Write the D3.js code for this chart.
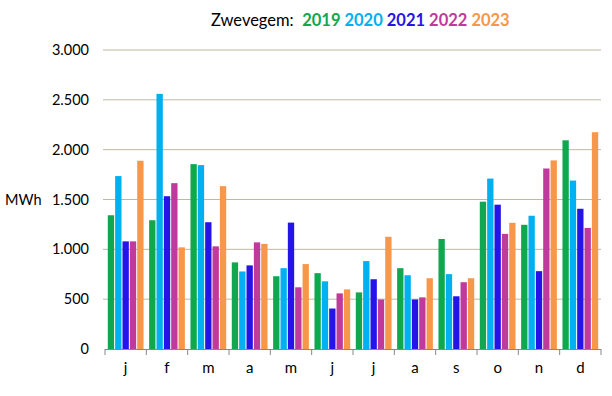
<!DOCTYPE html>
<html>
<head>
<meta charset="utf-8">
<script src="https://cdn.jsdelivr.net/npm/d3@7"></script>
<style>
  body { margin: 0; background: #fff; }
  text { font-family: Lato, "Open Sans", sans-serif; }
</style>
</head>
<body>
<div id="chart"></div>
<script>
// Monthly energy use for Zwevegem, MWh per year

var months = ["j", "f", "m", "a", "m", "j", "j", "a", "s", "o", "n", "d"];
var years = ["2019", "2020", "2021", "2022", "2023"];
var colors = ["#0FA84E", "#00B0F0", "#2414E6", "#C0399C", "#F7974A"];
var yTicks = [0, 500, 1000, 1500, 2000, 2500, 3000];

var v2019 = [1342, 1292, 1855, 869, 730, 761, 568, 811, 1104, 1478, 1246, 2094];
var v2020 = [1735, 2560, 1845, 778, 811, 679, 882, 740, 751, 1710, 1337, 1690];
var v2021 = [1080, 1533, 1272, 839, 1268, 406, 700, 497, 529, 1448, 781, 1407];
var v2022 = [1080, 1664, 1030, 1070, 619, 558, 497, 518, 670, 1155, 1811, 1215];
var v2023 = [1889, 1020, 1634, 1055, 852, 598, 1126, 710, 710, 1266, 1892, 2175];
var series = [v2019, v2020, v2021, v2022, v2023];

var svgWidth = 612;
var svgHeight = 396;
var margin = {top: 50, right: 11, bottom: 47, left: 105};
var chartWidth = svgWidth - margin.left - margin.right;
var chartHeight = svgHeight - margin.top - margin.bottom;

var svg = d3.select("#chart").append("svg")
    .attr("width", svgWidth)
    .attr("height", svgHeight);

var chartGroup = svg.append("g")
    .attr("transform", `translate(${margin.left}, ${margin.top})`);

// scales
var xScale = d3.scaleBand()
    .domain(d3.range(months.length))
    .range([0, chartWidth]);

var xInner = d3.scaleBand()
    .domain(years)
    .range([0, xScale.bandwidth()])
    .paddingInner(0.14)
    .paddingOuter(0.38);

var yScale = d3.scaleLinear()
    .domain([0, 3000])
    .range([chartHeight, 0]);

// gridlines
chartGroup.selectAll(".grid")
    .data(yTicks.slice(1))
    .enter()
    .append("line")
    .attr("class", "grid")
    .attr("x1", -2)
    .attr("x2", chartWidth)
    .attr("y1", d => yScale(d))
    .attr("y2", d => yScale(d))
    .attr("stroke", "#BFB9A0")
    .attr("stroke-width", 1);

// y tick labels
var fmt = d3.format(",");
chartGroup.selectAll(".ylab")
    .data(yTicks)
    .enter()
    .append("text")
    .attr("class", "ylab")
    .attr("x", -16)
    .attr("y", d => yScale(d) + 5)
    .attr("text-anchor", "end")
    .attr("font-size", "14.5px")
    .attr("fill", "#000")
    .text(d => fmt(d).replace(/,/g, "."));

// bars
years.forEach(function(yr, i) {
    chartGroup.selectAll(".bar" + yr)
        .data(series[i])
        .enter()
        .append("rect")
        .attr("x", (d, m) => xScale(m) + xInner(yr))
        .attr("y", d => yScale(d))
        .attr("width", xInner.bandwidth())
        .attr("height", d => chartHeight - yScale(d))
        .attr("fill", colors[i]);
});

// x axis line and ticks
var axisG = chartGroup.append("g")
    .attr("transform", `translate(0, ${chartHeight})`);

axisG.append("line")
    .attr("x1", 0).attr("x2", chartWidth)
    .attr("y1", 0.5).attr("y2", 0.5)
    .attr("stroke", "#888");

axisG.selectAll(".xtick")
    .data(d3.range(months.length + 1))
    .enter()
    .append("line")
    .attr("x1", d => d < months.length ? xScale(d) : chartWidth)
    .attr("x2", d => d < months.length ? xScale(d) : chartWidth)
    .attr("y1", 0)
    .attr("y2", 6)
    .attr("stroke", "#888");

axisG.selectAll(".xlab")
    .data(months)
    .enter()
    .append("text")
    .attr("x", (d, i) => xScale(i) + xScale.bandwidth() / 2)
    .attr("y", 24)
    .attr("text-anchor", "middle")
    .attr("font-size", "15px")
    .attr("fill", "#000")
    .text(d => d);

// y label
svg.append("text")
    .attr("x", 5)
    .attr("y", 205)
    .attr("font-size", "14.5px")
    .attr("fill", "#000")
    .text("MWh");

// title
var title = svg.append("text")
    .attr("x", 211)
    .attr("y", 26)
    .attr("font-size", "16.5px")
    .attr("fill", "#000")
    .style("white-space", "pre");

title.append("tspan").text("Zwevegem:  ");
years.forEach(function(yr, i) {
    title.append("tspan")
        .attr("font-weight", "bold")
        .attr("fill", colors[i])
        .text(yr + (i < years.length - 1 ? " " : ""));
});
</script>
</body>
</html>
